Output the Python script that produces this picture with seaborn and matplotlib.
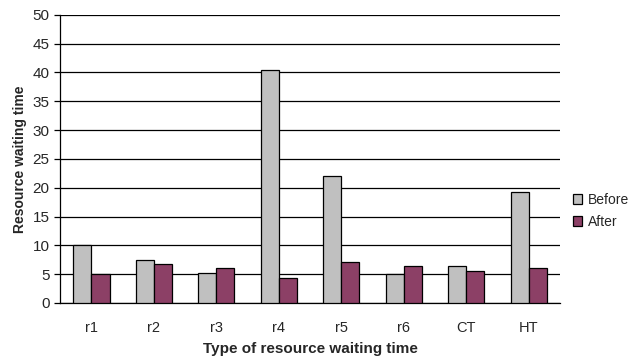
import matplotlib
matplotlib.use("Agg")
import matplotlib.pyplot as plt
import seaborn as sns
import pandas as pd

categories = ["r1", "r2", "r3", "r4", "r5", "r6", "CT", "HT"]
before = [10.1, 7.4, 5.2, 40.4, 22.1, 5.0, 6.4, 19.2]
after = [5.0, 6.7, 6.0, 4.3, 7.2, 6.4, 5.5, 6.0]

df = pd.DataFrame({
    "cat": categories * 2,
    "val": before + after,
    "series": ["Before"] * len(categories) + ["After"] * len(categories),
})

sns.set_style("white")
plt.rcParams["font.family"] = ["Liberation Sans", "DejaVu Sans"]

fig = plt.figure(figsize=(6.4, 3.62), dpi=100)
ax = fig.add_axes([0.094, 0.163, 0.781, 0.796])

sns.barplot(data=df, x="cat", y="val", hue="series", order=categories,
            hue_order=["Before", "After"],
            palette={"Before": "#C0C0C0", "After": "#993366"},
            width=0.58, edgecolor="black", linewidth=0.9, ax=ax, zorder=3)

ax.set_ylim(0, 50)
ax.set_xlim(-0.5, len(categories) - 0.5)
ax.set_yticks(range(0, 51, 5))
ax.yaxis.grid(True, color="black", linewidth=0.9, zorder=0)
ax.set_axisbelow(True)
for s in ["top", "right"]:
    ax.spines[s].set_visible(False)
for s in ["left", "bottom"]:
    ax.spines[s].set_color("black")
    ax.spines[s].set_linewidth(0.9)

ax.tick_params(axis="x", which="major", length=0, pad=13, labelsize=10.5)
ax.set_xticks([i - 0.5 for i in range(len(categories) + 1)], minor=True)
ax.tick_params(axis="x", which="minor", length=4, width=0.9, direction="out", color="black")
ax.tick_params(axis="y", length=4, width=0.9, direction="out", left=True, color="black", labelsize=11)

ax.set_xlabel("Type of resource waiting time", fontsize=11, fontweight="bold", labelpad=5)
ax.set_ylabel("Resource waiting time", fontsize=10, fontweight="bold", labelpad=4)

leg = ax.legend(loc="center left", bbox_to_anchor=(1.0, 0.32), frameon=False,
                fontsize=10, handlelength=0.7, handleheight=0.7, handletextpad=0.4,
                labelspacing=0.6)

fig.savefig("out.png", dpi=100)
